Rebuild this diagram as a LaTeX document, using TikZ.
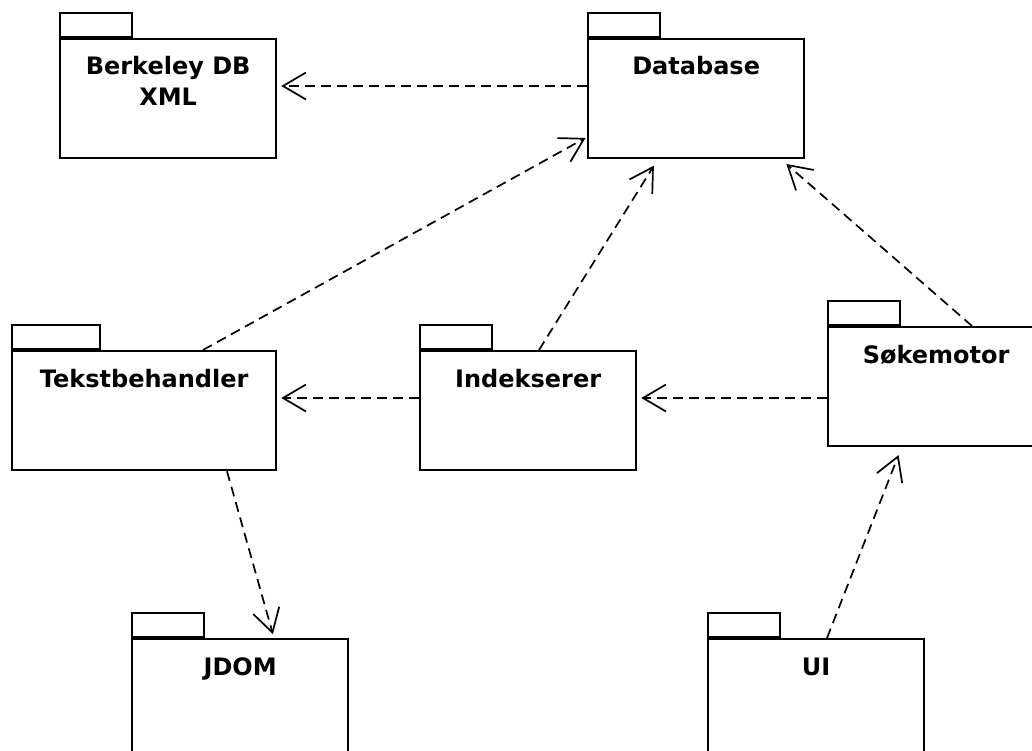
\documentclass[tikz,border=0pt]{standalone}
\usepackage{fontspec}
\setmainfont{DejaVu Sans}
\usetikzlibrary{arrows.meta}
\tikzset{
  pkgtab/.style={draw, line width=2.3pt, minimum width=72pt, minimum height=24pt, anchor=south west, inner sep=0pt},
  pkgbody/.style={draw, line width=2.3pt, minimum width=216pt, minimum height=119pt, anchor=north west, inner sep=0pt},
  title/.style={anchor=base, font=\bfseries\fontsize{24}{31}\selectfont, align=center, inner sep=0pt},
  dep/.style={line width=1.7pt, dash pattern=on 10pt off 6pt, -{Straight Barb[length=23pt, width=27pt, line width=1.7pt]}, shorten >=4pt},
}
\begin{document}
\begin{tikzpicture}[x=1pt, y=-1pt]
\useasboundingbox (0,0) rectangle (1032,751);
\clip (0,0) rectangle (1032,751);
\fill[white] (0,0) rectangle (1032,751);
% packages
\node[pkgbody] (bk) at (59,38) {};
\node[pkgtab] (bkt) at (bk.north west) {};
\node[title] (bkl) at ([yshift=-68pt]bk.north) {Berkeley DB\\XML};

\node[pkgbody] (db) at (587,38) {};
\node[pkgtab] (dbt) at (db.north west) {};
\node[title] (dbl) at ([yshift=-37pt]db.north) {Database};

\node[pkgbody, minimum width=264pt] (tb) at (11,350) {};
\node[pkgtab, minimum width=88pt] (tbt) at (tb.north west) {};
\node[title] (tbl) at ([yshift=-37pt]tb.north) {Tekstbehandler};

\node[pkgbody] (ix) at (419,350) {};
\node[pkgtab] (ixt) at (ix.north west) {};
\node[title] (ixl) at ([yshift=-37pt]ix.north) {Indekserer};

\node[pkgbody] (sm) at (827,326) {};
\node[pkgtab] (smt) at (sm.north west) {};
\node[title] (sml) at ([yshift=-37pt]sm.north) {Søkemotor};

\node[pkgbody] (jd) at (131,638) {};
\node[pkgtab] (jdt) at (jd.north west) {};
\node[title] (jdl) at ([yshift=-37pt]jd.north) {JDOM};

\node[pkgbody] (ui) at (707,638) {};
\node[pkgtab] (uit) at (ui.north west) {};
\node[title] (uil) at ([yshift=-37pt]ui.north) {UI};

% dependencies
\draw[dep] ([yshift=-48pt]db.north west) -- ([yshift=-48pt]bk.north east);
\draw[dep] ([xshift=192pt]tb.north west) -- ([yshift=-98pt, xshift=2pt]db.north west);
\draw[dep] ([xshift=120pt]ix.north west) -- ([xshift=69pt, yshift=-3pt]db.south west);
\draw[dep] ([xshift=145pt]sm.north west) -- ([xshift=-22pt, yshift=-2pt]db.south east);
\draw[dep] ([yshift=-48pt]ix.north west) -- ([yshift=-48pt]tb.north east);
\draw[dep] ([yshift=-72pt]sm.north west) -- ([yshift=-48pt]ix.north east);
\draw[dep] ([xshift=216pt]tb.south west) -- ([xshift=143pt]jd.north west);
\draw[dep] ([xshift=120pt]ui.north west) -- ([xshift=73pt, yshift=-4pt]sm.south west);
\end{tikzpicture}
\end{document}
